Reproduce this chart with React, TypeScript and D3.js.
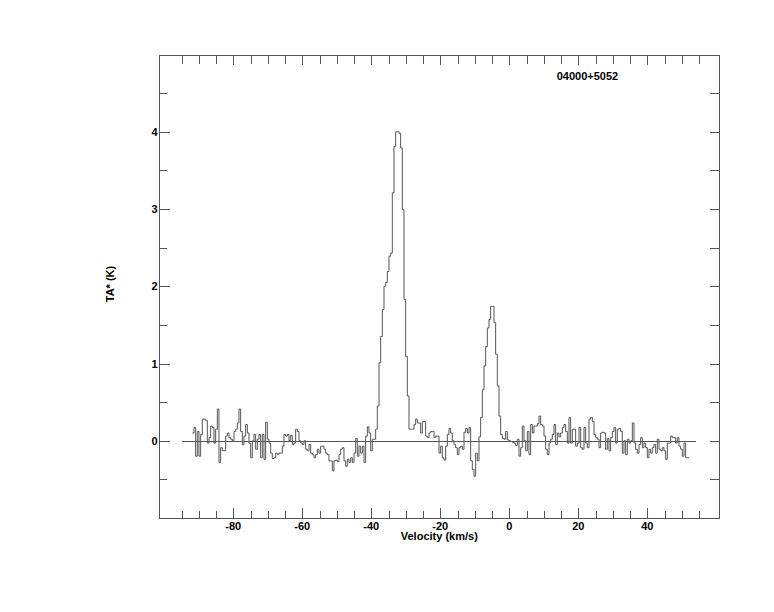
import React from "react";
import * as d3 from "d3";

// ---- data ----
const sourceName = "04000+5052";
const xTitle = "Velocity (km/s)";
const yTitle = "TA* (K)";
const velocityStart = -91.88; // km/s, left edge of first channel
const channelWidth = 0.4831; // km/s
const baselineRange = [-95, 54];

const noiseLow = [
  0.10,0.17,-0.20,0.12,-0.20,0.08,0.28,0.28,0.26,-0.03,
  0.04,0.19,0.17,-0.03,0.15,0.41,-0.28,-0.09,-0.13,-0.13,
  0.06,0.10,0.04,0.02,0.00,0.12,0.15,0.23,0.41,0.12,
  -0.05,0.06,0.21,0.10,-0.03,-0.22,0.00,0.08,-0.11,0.02,
  0.08,-0.22,0.08,-0.24,0.24,0.02,-0.03,-0.16,-0.23,-0.22,
  -0.16,-0.18,-0.16,-0.16,-0.07,0.08,0.06,0.08,0.00,0.07,
  -0.05,-0.03,0.15,0.12,0.00,-0.03,-0.05,0.00,-0.11,-0.13,
  -0.05,-0.16,
];
const preMainPeak = [
  -0.18,-0.22,-0.18,-0.11,-0.16,-0.07,-0.07,-0.11,-0.16,-0.18,
  -0.26,-0.26,-0.39,-0.26,-0.25,-0.27,-0.18,-0.11,-0.09,-0.26,
  -0.33,-0.24,-0.28,-0.22,-0.28,-0.16,0.03,-0.20,-0.07,-0.16,
  -0.07,-0.28,0.06,0.18,0.10,-0.13,0.02,0.02,0.15,
];
const mainPeak = [
  0.45,1.01,1.35,1.70,2.00,2.05,2.19,2.39,2.43,3.21,
  3.81,4.00,4.00,3.98,3.79,2.99,1.83,1.09,0.58,
];
const postMainPeak = [
  0.15,0.15,0.15,0.21,0.28,0.23,0.23,0.10,0.25,0.25,
  0.06,0.04,0.10,0.12,0.12,0.04,0.06,
];
const preSecondPeak = [
  0.06,-0.16,-0.07,-0.22,-0.25,-0.07,0.08,0.16,0.10,0.00,
  -0.05,-0.09,-0.18,-0.09,-0.07,-0.11,0.11,0.16,0.10,0.17,
  -0.26,-0.37,-0.46,
];
const secondPeak = [
  -0.16,-0.26,0.05,0.30,0.66,0.97,1.22,1.46,1.57,1.74,
  1.74,1.53,1.12,0.71,0.32,0.08,
];
const postSecondPeak = [
  0.03,0.02,0.12,0.01,0.00,-0.01,-0.02,-0.03,-0.06,0.02,
  -0.20,-0.09,0.19,0.00,-0.13,0.12,-0.18,0.21,0.10,0.19,
  0.19,0.22,0.32,0.21,0.19,0.06,-0.11,-0.18,-0.03,0.02,
  0.08,0.21,-0.05,0.10,0.05,0.10,
];
const noiseHigh = [
  0.17,0.21,0.12,-0.03,0.30,-0.03,0.15,0.15,-0.07,-0.03,
  0.17,-0.09,-0.11,0.17,-0.03,-0.09,0.28,0.30,0.25,0.08,
  0.04,0.02,-0.09,0.10,0.11,0.10,-0.11,0.03,-0.13,0.04,
  0.12,0.17,-0.03,0.15,0.16,0.12,-0.16,0.00,-0.18,0.02,
  -0.03,0.00,0.23,-0.03,-0.11,-0.16,-0.05,0.04,-0.09,-0.03,
  -0.09,-0.22,-0.11,-0.16,-0.09,-0.05,-0.16,0.02,-0.11,-0.13,
  -0.09,-0.13,-0.24,-0.03,-0.03,0.06,0.04,0.04,-0.03,0.04,
  -0.07,-0.11,-0.20,-0.03,-0.22,-0.22,
];

const xTickLabels = [-80, -60, -40, -20, 0, 20, 40];
const yTickLabels = [0, 1, 2, 3, 4];

const temps = [
  ...noiseLow, ...preMainPeak, ...mainPeak, ...postMainPeak,
  ...preSecondPeak, ...secondPeak, ...postSecondPeak, ...noiseHigh,
];

// ---- layout ----
const W = 774, H = 612;
const xDomain: [number, number] = [-101.45, 60.87];
const yDomain: [number, number] = [-1, 5];
const x = d3.scaleLinear().domain(xDomain).range([159.3, 719.3]);
const y = d3.scaleLinear().domain(yDomain).range([518, 54.5]);

const gray = "#555";
const font = "'Liberation Sans', Arial, Helvetica, sans-serif";

export default function App() {
  const pts: [number, number][] = temps.map((t, i) => [velocityStart + i * channelWidth, t]);
  pts.push([velocityStart + temps.length * channelWidth, temps[temps.length - 1]]);
  const line = d3
    .line<[number, number]>()
    .x((d) => x(d[0]))
    .y((d) => y(d[1]))
    .curve(d3.curveStepAfter);

  const left = x(xDomain[0]), right = x(xDomain[1]);
  const top = y(yDomain[1]), bottom = y(yDomain[0]);

  const xTicks = d3.range(-95, 56, 5);
  const yTicks = d3.range(-0.5, 4.51, 0.5);
  const isMajorX = (v: number) => Math.abs(v % 20) < 1e-6;
  const isMajorY = (v: number) => Math.abs(v - Math.round(v)) < 1e-6;

  return (
    <svg
      width={W}
      height={H}
      style={{ position: "absolute", left: 0, top: 0, background: "#fff" }}
    >
      <rect x={0} y={0} width={W} height={H} fill="#fff" />
      {/* ticks */}
      <g stroke={gray} strokeWidth={1} shapeRendering="crispEdges">
        {xTicks.map((v) => {
          const px = Math.round(x(v)) + 0.5;
          const maj = isMajorX(v);
          return (
            <g key={"x" + v}>
              <line x1={px} x2={px} y1={bottom} y2={bottom - (maj ? 10 : 7)} />
              <line x1={px} x2={px} y1={top} y2={top + (maj ? 10.7 : 9)} />
            </g>
          );
        })}
        {yTicks.map((v) => {
          const py = Math.round(y(v)) + 0.5;
          const maj = isMajorY(v);
          return (
            <g key={"y" + v}>
              <line x1={left} x2={left + (maj ? 10.7 : 7.3)} y1={py} y2={py} />
              <line x1={right} x2={right - 9.3} y1={py} y2={py} />
            </g>
          );
        })}
        <rect
          x={Math.round(left) + 0.5}
          y={Math.round(top) + 0.5}
          width={Math.round(right) - Math.round(left)}
          height={Math.round(bottom) - Math.round(top)}
          fill="none"
        />
        {/* baseline */}
        <line
          x1={x(baselineRange[0])}
          x2={x(baselineRange[1])}
          y1={Math.round(y(0)) + 0.5}
          y2={Math.round(y(0)) + 0.5}
        />
      </g>
      {/* spectrum */}
      <path d={line(pts) || ""} fill="none" stroke={gray} strokeWidth={1} />
      {/* labels */}
      <g fontFamily={font} fontWeight="bold" fontSize={11} fill="#000">
        {xTickLabels.map((v) => (
          <text key={"xl" + v} x={x(v)} y={530} textAnchor="middle">
            {v}
          </text>
        ))}
        {yTickLabels.map((v) => (
          <text key={"yl" + v} x={157.5} y={y(v) + 4} textAnchor="end">
            {v}
          </text>
        ))}
        <text x={(left + right) / 2} y={540} textAnchor="middle">
          {xTitle}
        </text>
        <text transform={`translate(113.5, 284) rotate(-90)`} textAnchor="middle">
          {yTitle}
        </text>
        <text x={556.7} y={79.5}>
          {sourceName}
        </text>
      </g>
    </svg>
  );
}
